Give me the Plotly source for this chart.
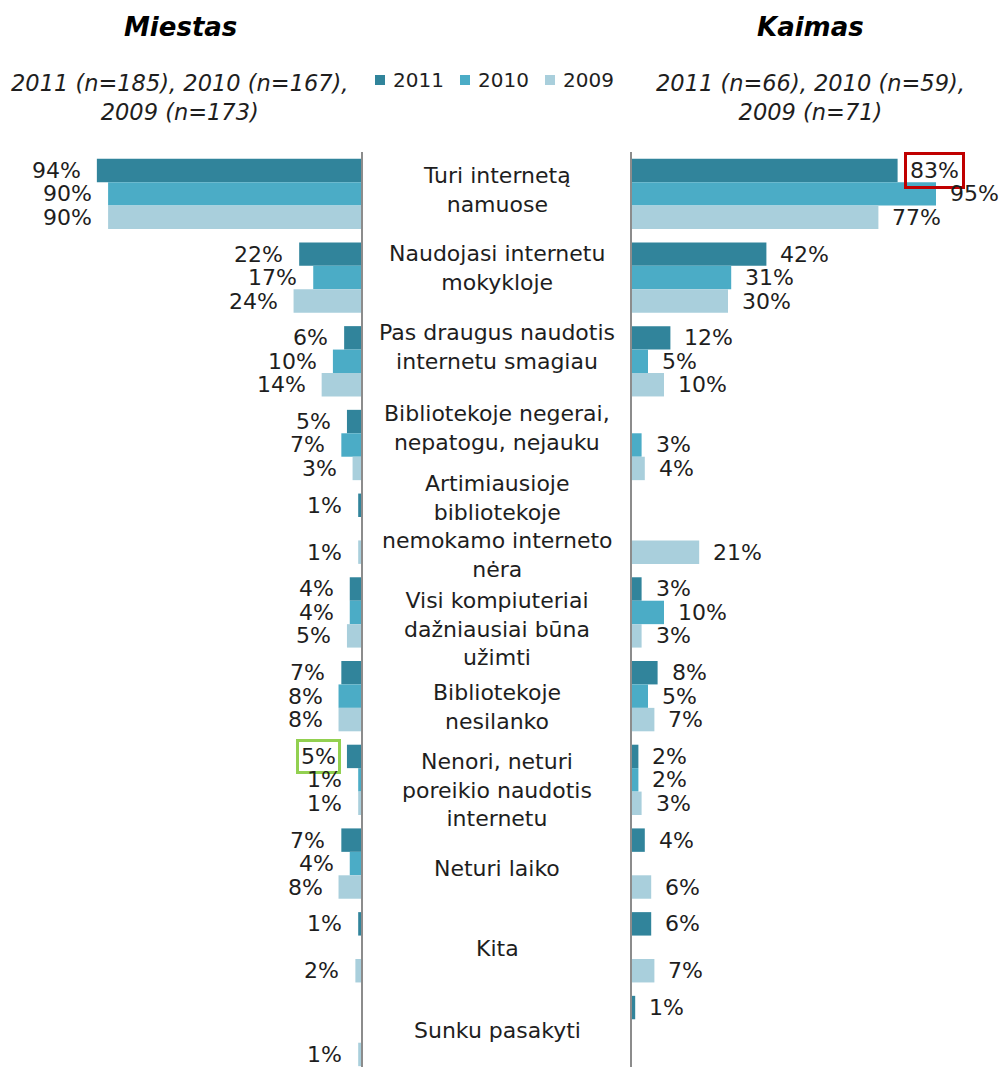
import plotly.graph_objects as go

# categories (top to bottom)
categories = [
    "Turi internetą<br>namuose",
    "Naudojasi internetu<br>mokykloje",
    "Pas draugus naudotis<br>internetu smagiau",
    "Bibliotekoje negerai,<br>nepatogu, nejauku",
    "Artimiausioje<br>bibliotekoje<br>nemokamo interneto<br>nėra",
    "Visi kompiuteriai<br>dažniausiai būna<br>užimti",
    "Bibliotekoje<br>nesilanko",
    "Nenori, neturi<br>poreikio naudotis<br>internetu",
    "Neturi laiko",
    "Kita",
    "Sunku pasakyti",
]
years = ["2011", "2010", "2009"]

# Miestas (city), %
city_2011 = [94, 22, 6, 5, 1, 4, 7, 5, 7, 1, None]
city_2010 = [90, 17, 10, 7, None, 4, 8, 1, 4, None, None]
city_2009 = [90, 24, 14, 3, 1, 5, 8, 1, 8, 2, 1]

# Kaimas (village), %
vill_2011 = [83, 42, 12, None, None, 3, 8, 2, 4, 6, 1]
vill_2010 = [95, 31, 5, 3, None, 10, 5, 2, None, None, None]
vill_2009 = [77, 30, 10, 4, 21, 3, 7, 3, 6, 7, None]

city = [city_2011, city_2010, city_2009]
vill = [vill_2011, vill_2010, vill_2009]

colors = ["#31849B", "#4BACC6", "#A9CFDC"]
FONT = "DejaVu Sans"
TXT = "#1e1e1e"
BARGAP = 0.16

# label boxes drawn in the original: (side, category, series) -> colour
boxed = {("vill", 0, 0): "#C00000", ("city", 7, 0): "#92D050"}
# vertical nudge (px) of the category captions, as Excel placed them
label_shift = [4, 10, 14, 17, 2, -17, -11, -10, -5, -1, 1]

W, H = 1003, 1067


def px(x):
    return x / W


def py(y):
    return 1 - y / H


idx = list(range(len(categories)))

fig = go.Figure()
for k, yr in enumerate(years):
    fig.add_trace(go.Bar(y=idx, x=city[k], orientation="h", name=yr,
                         marker=dict(color=colors[k], line=dict(width=0)),
                         xaxis="x", yaxis="y", showlegend=False))
    fig.add_trace(go.Bar(y=idx, x=vill[k], orientation="h", name=yr,
                         marker=dict(color=colors[k], line=dict(width=0)),
                         xaxis="x2", yaxis="y2", showlegend=False))

w = (1 - BARGAP) / 3
ann = []
for k in range(3):
    for i in idx:
        off = i + (k - 1) * w
        v = city[k][i]
        if v is not None:
            bc = boxed.get(("city", i, k))
            a = dict(x=v, y=off, xref="x", yref="y", text=f"{v}%", showarrow=False,
                     xanchor="right", yanchor="middle", xshift=-14,
                     font=dict(family=FONT, size=22, color=TXT))
            if bc:
                a.update(bordercolor=bc, borderwidth=3, borderpad=2, xshift=-6)
            ann.append(a)
        v = vill[k][i]
        if v is not None:
            bc = boxed.get(("vill", i, k))
            a = dict(x=v, y=off, xref="x2", yref="y2", text=f"{v}%", showarrow=False,
                     xanchor="left", yanchor="middle", xshift=12,
                     font=dict(family=FONT, size=22, color=TXT))
            if bc:
                a.update(bordercolor=bc, borderwidth=3, borderpad=3, xshift=6)
            ann.append(a)

for i, c in enumerate(categories):
    ann.append(dict(x=px(497), y=i, xref="paper", yref="y", text=c, showarrow=False,
                    xanchor="center", yanchor="middle", align="center",
                    yshift=label_shift[i],
                    font=dict(family=FONT, size=22, color=TXT)))

titles = [
    (180, "Miestas", "2011 (n=185), 2010 (n=167),<br>2009 (n=173)"),
    (810, "Kaimas", "2011 (n=66), 2010 (n=59),<br>2009 (n=71)"),
]
for xc, t, sub in titles:
    ann.append(dict(x=px(xc), y=py(27), xref="paper", yref="paper",
                    text=f"<b><i>{t}</i></b>", showarrow=False, xanchor="center",
                    yanchor="middle", font=dict(family=FONT, size=26, color="#000")))
    ann.append(dict(x=px(xc), y=py(97), xref="paper", yref="paper",
                    text=f"<i>{sub}</i>", showarrow=False, xanchor="center",
                    yanchor="middle", align="center",
                    font=dict(family=FONT, size=22.5, color=TXT)))

# legend row: coloured squares + year text
shapes = []
for k, yr in enumerate(years):
    x0 = 375 + 85 * k
    shapes.append(dict(type="rect", xref="paper", yref="paper",
                       x0=px(x0), x1=px(x0 + 10), y0=py(85), y1=py(75),
                       fillcolor=colors[k], line=dict(width=0)))
    ann.append(dict(x=px(x0 + 16), y=py(80), xref="paper", yref="paper",
                    text=yr, showarrow=False, xanchor="left", yanchor="middle",
                    font=dict(family=FONT, size=20, color=TXT)))

yrange = [10.43, -0.5]
fig.update_layout(
    width=W, height=H,
    margin=dict(l=0, r=0, t=0, b=0),
    paper_bgcolor="white", plot_bgcolor="white",
    barmode="group", bargap=BARGAP, bargroupgap=0,
    annotations=ann, shapes=shapes,
    xaxis=dict(domain=[0, px(361)], range=[361 / 2.81, 0],
               visible=False, fixedrange=True),
    xaxis2=dict(domain=[px(632), 1], range=[0, (W - 632) / 3.2],
                visible=False, fixedrange=True),
    yaxis=dict(domain=[0, py(152)], range=yrange, anchor="x", side="right",
               showline=True, linecolor="#8c8c8c", linewidth=1.5,
               showticklabels=False, ticks="", showgrid=False, zeroline=False),
    yaxis2=dict(domain=[0, py(152)], range=yrange, anchor="x2", side="left",
                showline=True, linecolor="#8c8c8c", linewidth=1.5,
                showticklabels=False, ticks="", showgrid=False, zeroline=False),
)

# drop the default body margin so the figure sits at the window corner
fig.write_html("out.html", config={"displayModeBar": False},
               post_script="document.body.style.margin='0';document.body.style.overflow='hidden';")
